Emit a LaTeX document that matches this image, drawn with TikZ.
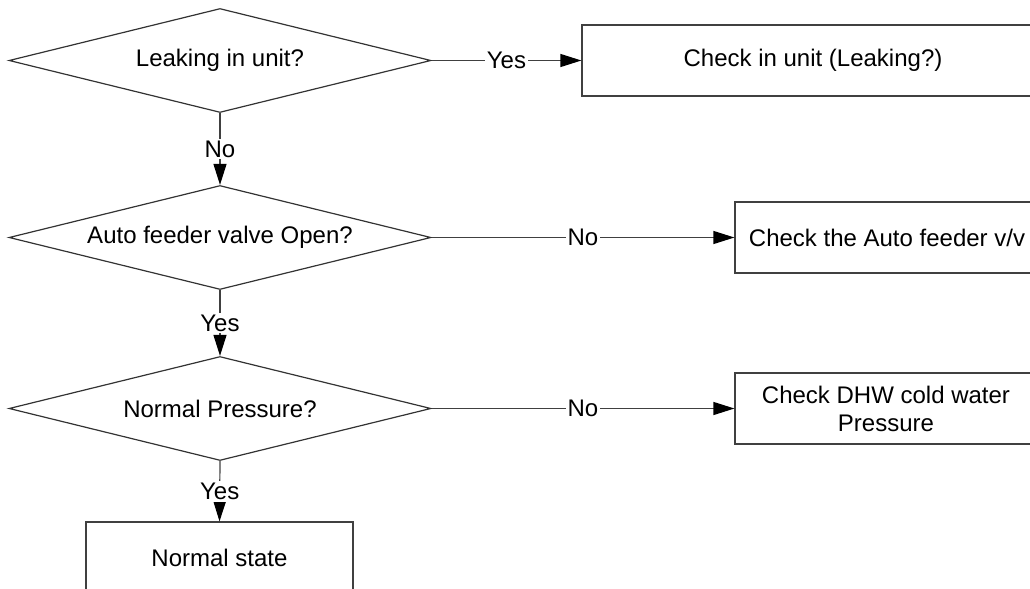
\documentclass[tikz,border=0pt]{standalone}
\usepackage{fontspec}
\setmainfont{Liberation Sans}
\usetikzlibrary{shapes.geometric,arrows.meta}

\begin{document}
\begin{tikzpicture}[x=0.5pt, y=-0.5pt,
    every node/.style={font=\fontsize{12}{14}\selectfont, text=black},
    decision/.style={diamond, draw=black!80, line width=0.6pt, inner sep=0pt, aspect=4.06, minimum width=211pt, minimum height=52pt},
    action/.style={rectangle, draw=black!75, line width=0.6pt, inner sep=0pt, align=center, minimum height=35.5pt},
    flow/.style={draw=black!75, line width=0.6pt, -{Triangle[length=10.5pt, width=6.5pt, color=black]}},
    answer/.style={fill=white, inner sep=1pt}]
    \useasboundingbox (0,0) rectangle (1030,589);

    % decisions down the left
    \node[decision] (leak) at (220,60.5) {Leaking in unit?};
    \node[decision] (feeder) at (220,237.5) {Auto feeder valve Open?};
    \node[decision] (press) at (220,408.5) {Normal Pressure?};

    % actions
    \node[action, minimum width=231pt] (chkunit) at (813,60.5) {Check in unit (Leaking?)};
    \node[action, minimum width=152pt] (chkfeeder) at (887,237.5) {Check the Auto feeder v/v};
    \node[action, minimum width=151pt] (chkdhw) at (886,408.5) {Check DHW cold water\\Pressure};
    \node[action, minimum width=133.5pt] (normal) at (219.5,557.5) {Normal state};

    % connectors
    \draw[flow] (leak.east) -- node[answer] {Yes} (chkunit.west);
    \draw[flow] (leak.south) -- node[answer] {No} (feeder.north);
    \draw[flow] (feeder.east) -- node[answer] {No} (chkfeeder.west);
    \draw[flow] (feeder.south) -- node[answer] {Yes} (press.north);
    \draw[flow] (press.east) -- node[answer] {No} (chkdhw.west);
    \draw[flow] (press.south) -- node[answer] {Yes} (normal.north);
\end{tikzpicture}
\end{document}
